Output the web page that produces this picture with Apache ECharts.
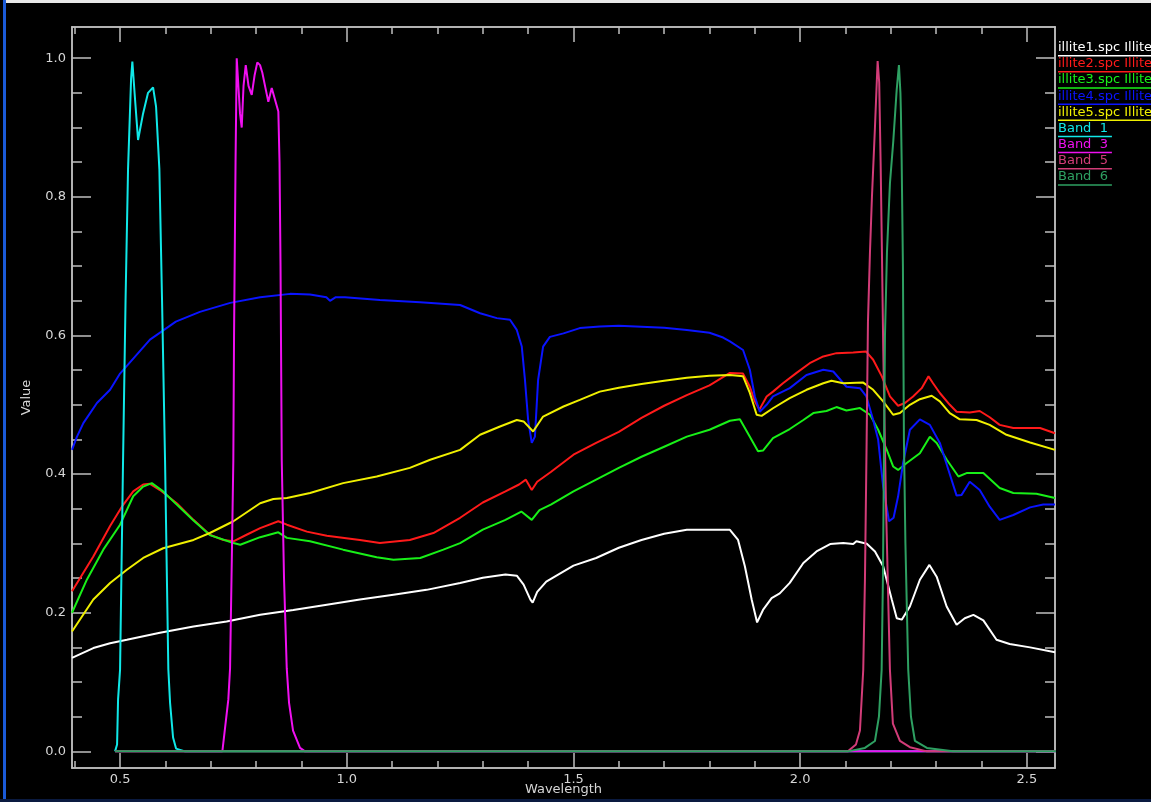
<!DOCTYPE html>
<html>
<head>
<meta charset="utf-8">
<script src="https://cdn.jsdelivr.net/npm/echarts@6/dist/echarts.min.js"></script>
<style>
html,body{margin:0;padding:0;background:#000;}
#chart{width:1151px;height:802px;}
</style>
</head>
<body>
<div id="chart"></div>
<script>
// ---- data: [wavelength, value] ----
const illite1 = [[0.394,0.135],[0.441,0.149],[0.478,0.156],[0.515,0.161],[0.588,0.171],[0.662,0.18],[0.735,0.1875],[0.809,0.197],[0.882,0.204],[0.956,0.2116],[1.029,0.219],[1.103,0.226],[1.176,0.233],[1.25,0.243],[1.3,0.2505],[1.35,0.255],[1.375,0.2535],[1.39,0.2405],[1.405,0.219],[1.41,0.2145],[1.42,0.23],[1.44,0.245],[1.5,0.268],[1.55,0.279],[1.6,0.2937],[1.65,0.305],[1.7,0.314],[1.75,0.3197],[1.8,0.3197],[1.845,0.3197],[1.863,0.305],[1.878,0.267],[1.893,0.219],[1.905,0.186],[1.918,0.204],[1.937,0.221],[1.955,0.228],[1.977,0.243],[2.007,0.2717],[2.036,0.2884],[2.066,0.299],[2.095,0.3005],[2.117,0.299],[2.124,0.303],[2.147,0.2995],[2.165,0.2884],[2.183,0.267],[2.202,0.219],[2.213,0.192],[2.224,0.19],[2.242,0.209],[2.264,0.2476],[2.285,0.269],[2.301,0.252],[2.323,0.209],[2.345,0.1827],[2.363,0.192],[2.382,0.197],[2.404,0.189],[2.433,0.161],[2.462,0.155],[2.507,0.15],[2.562,0.143]];
const illite2 = [[0.394,0.231],[0.441,0.281],[0.478,0.325],[0.504,0.353],[0.529,0.375],[0.551,0.385],[0.566,0.386],[0.588,0.377],[0.625,0.358],[0.662,0.334],[0.698,0.3125],[0.728,0.305],[0.75,0.303],[0.779,0.3125],[0.809,0.322],[0.849,0.332],[0.868,0.327],[0.912,0.317],[0.956,0.311],[1.029,0.305],[1.073,0.3005],[1.139,0.305],[1.191,0.315],[1.25,0.337],[1.3,0.359],[1.35,0.375],[1.38,0.385],[1.395,0.392],[1.408,0.377],[1.42,0.389],[1.45,0.403],[1.5,0.428],[1.55,0.445],[1.6,0.461],[1.65,0.481],[1.7,0.4986],[1.75,0.514],[1.8,0.528],[1.845,0.546],[1.874,0.545],[1.889,0.526],[1.9,0.505],[1.91,0.493],[1.926,0.512],[1.94,0.519],[1.962,0.531],[1.992,0.546],[2.021,0.56],[2.051,0.5697],[2.08,0.5745],[2.117,0.5754],[2.145,0.577],[2.161,0.565],[2.18,0.541],[2.198,0.512],[2.216,0.4986],[2.231,0.5025],[2.249,0.512],[2.268,0.524],[2.283,0.541],[2.293,0.531],[2.308,0.517],[2.33,0.5],[2.345,0.49],[2.374,0.489],[2.396,0.491],[2.418,0.482],[2.44,0.471],[2.47,0.4664],[2.529,0.4664],[2.562,0.459]];
const illite3 = [[0.394,0.2],[0.427,0.248],[0.463,0.291],[0.5,0.327],[0.529,0.368],[0.551,0.382],[0.57,0.387],[0.595,0.375],[0.625,0.356],[0.662,0.333],[0.698,0.312],[0.75,0.3005],[0.765,0.298],[0.809,0.309],[0.849,0.316],[0.868,0.308],[0.919,0.303],[0.992,0.291],[1.066,0.28],[1.103,0.2765],[1.162,0.279],[1.213,0.291],[1.25,0.3005],[1.3,0.32],[1.35,0.334],[1.385,0.346],[1.408,0.334],[1.425,0.348],[1.45,0.356],[1.5,0.375],[1.55,0.392],[1.6,0.409],[1.65,0.425],[1.7,0.4395],[1.75,0.454],[1.8,0.464],[1.845,0.477],[1.867,0.479],[1.889,0.454],[1.907,0.433],[1.918,0.434],[1.94,0.452],[1.977,0.465],[2.007,0.478],[2.029,0.488],[2.058,0.491],[2.08,0.4967],[2.102,0.4918],[2.132,0.4952],[2.154,0.4856],[2.172,0.464],[2.191,0.435],[2.205,0.411],[2.216,0.406],[2.235,0.416],[2.264,0.43],[2.286,0.454],[2.301,0.445],[2.323,0.421],[2.349,0.3966],[2.367,0.4015],[2.404,0.4015],[2.44,0.38],[2.47,0.3727],[2.521,0.3717],[2.562,0.3655]];
const illite4 = [[0.394,0.435],[0.405,0.454],[0.419,0.4736],[0.449,0.5025],[0.478,0.5216],[0.5,0.545],[0.566,0.594],[0.623,0.62],[0.676,0.634],[0.743,0.647],[0.809,0.655],[0.875,0.66],[0.919,0.659],[0.955,0.655],[0.963,0.65],[0.975,0.655],[0.996,0.655],[1.073,0.651],[1.162,0.648],[1.25,0.644],[1.294,0.632],[1.331,0.625],[1.36,0.6226],[1.375,0.608],[1.386,0.584],[1.393,0.536],[1.4,0.478],[1.408,0.445],[1.415,0.454],[1.422,0.536],[1.433,0.584],[1.448,0.598],[1.478,0.603],[1.514,0.6106],[1.558,0.613],[1.6,0.614],[1.65,0.6125],[1.7,0.611],[1.75,0.608],[1.8,0.604],[1.83,0.597],[1.845,0.5914],[1.874,0.579],[1.889,0.5505],[1.9,0.512],[1.911,0.49],[1.926,0.5],[1.94,0.512],[1.977,0.524],[2.014,0.543],[2.051,0.5505],[2.073,0.548],[2.102,0.526],[2.132,0.524],[2.146,0.512],[2.161,0.478],[2.172,0.4495],[2.183,0.382],[2.196,0.332],[2.206,0.337],[2.216,0.368],[2.227,0.416],[2.242,0.464],[2.264,0.479],[2.286,0.471],[2.308,0.445],[2.327,0.406],[2.345,0.369],[2.356,0.37],[2.374,0.389],[2.396,0.377],[2.418,0.353],[2.44,0.334],[2.47,0.341],[2.507,0.352],[2.536,0.356],[2.562,0.356]];
const illite5 = [[0.394,0.173],[0.441,0.219],[0.478,0.243],[0.515,0.262],[0.551,0.279],[0.595,0.293],[0.662,0.305],[0.698,0.315],[0.75,0.332],[0.809,0.358],[0.838,0.364],[0.868,0.3655],[0.919,0.3727],[0.992,0.387],[1.066,0.3966],[1.139,0.409],[1.184,0.4207],[1.25,0.435],[1.294,0.4567],[1.338,0.4687],[1.375,0.478],[1.39,0.476],[1.411,0.4615],[1.433,0.483],[1.478,0.4975],[1.514,0.507],[1.558,0.519],[1.6,0.5245],[1.65,0.53],[1.7,0.5346],[1.75,0.539],[1.8,0.542],[1.845,0.543],[1.874,0.541],[1.889,0.517],[1.904,0.4856],[1.915,0.484],[1.94,0.495],[1.977,0.5097],[2.014,0.5216],[2.051,0.531],[2.069,0.5346],[2.095,0.531],[2.139,0.532],[2.161,0.5216],[2.183,0.5048],[2.205,0.4856],[2.22,0.488],[2.242,0.5],[2.264,0.508],[2.29,0.513],[2.308,0.505],[2.33,0.488],[2.352,0.479],[2.389,0.478],[2.418,0.471],[2.455,0.4567],[2.507,0.4456],[2.562,0.435]];
const band1 = [[0.489,0],[0.4934,0.01],[0.4956,0.075],[0.5,0.118],[0.5066,0.42],[0.5121,0.65],[0.5176,0.84],[0.5243,0.97],[0.5271,0.995],[0.5331,0.94],[0.5397,0.882],[0.5507,0.92],[0.5617,0.95],[0.5728,0.958],[0.5794,0.93],[0.5867,0.84],[0.5926,0.65],[0.5992,0.42],[0.6065,0.118],[0.6103,0.07],[0.6169,0.02],[0.6235,0.004],[0.6433,0],[2.6,0]];
const band3 = [[0.489,0],[0.7256,0],[0.7388,0.075],[0.7426,0.12],[0.747,0.3],[0.7498,0.42],[0.7514,0.6],[0.7547,0.85],[0.7573,1.0],[0.7646,0.92],[0.7683,0.9],[0.7723,0.96],[0.7772,0.99],[0.7833,0.96],[0.7904,0.947],[0.7966,0.975],[0.8027,0.994],[0.8087,0.99],[0.8138,0.979],[0.8197,0.96],[0.827,0.937],[0.8345,0.957],[0.8418,0.94],[0.8491,0.923],[0.8517,0.85],[0.8539,0.7],[0.8566,0.42],[0.8616,0.25],[0.8676,0.12],[0.8727,0.07],[0.8815,0.03],[0.8969,0.005],[0.9079,0],[2.6,0]];
const band5 = [[0.489,0],[2.1053,0],[2.123,0.01],[2.1318,0.03],[2.1391,0.118],[2.1429,0.25],[2.1466,0.45],[2.1495,0.62],[2.1539,0.72],[2.1583,0.8],[2.1649,0.9],[2.1708,0.996],[2.1743,0.965],[2.1774,0.85],[2.1803,0.72],[2.1832,0.58],[2.1891,0.36],[2.1979,0.118],[2.2045,0.04],[2.22,0.015],[2.242,0.006],[2.2795,0],[2.6,0]];
const band6 = [[0.489,0],[2.1053,0],[2.1428,0.005],[2.1649,0.015],[2.1737,0.05],[2.1797,0.118],[2.1825,0.25],[2.1847,0.42],[2.187,0.6],[2.1914,0.72],[2.198,0.82],[2.2053,0.88],[2.2128,0.954],[2.2178,0.99],[2.2211,0.95],[2.2222,0.92],[2.2238,0.853],[2.2266,0.7],[2.2288,0.45],[2.2321,0.3],[2.2383,0.118],[2.2443,0.05],[2.2531,0.015],[2.2795,0.005],[2.3368,0],[2.6,0]];

const seriesNames = ['illite1.spc Illite','illite2.spc Illite','illite3.spc Illite','illite4.spc Illite','illite5.spc Illite','Band  1','Band  3','Band  5','Band  6'];
const seriesColors = ['#ffffff','#ff1a1a','#18f018','#0a14ff','#f0f000','#10e8e8','#f010f0','#d23c78','#2ea062'];
const seriesData = [illite1, illite2, illite3, illite4, illite5, band1, band3, band5, band6];

const xMajorTicks = [0.5, 1.0, 1.5, 2.0, 2.5];
const xMinorTicks = [0.4,0.6,0.7,0.8,0.9,1.1,1.2,1.3,1.4,1.6,1.7,1.8,1.9,2.1,2.2,2.3,2.4,2.6];
const yMajorTicks = [0.0, 0.2, 0.4, 0.6, 0.8, 1.0];
const yMinorTicks = [0.05,0.1,0.15,0.25,0.3,0.35,0.45,0.5,0.55,0.65,0.7,0.75,0.85,0.9,0.95];

const X_MIN = 0.394, X_MAX = 2.562, Y_MIN = -0.024, Y_MAX = 1.045;
const AX = '#bebebe', TX = '#d6d6d6', FONT = 'DejaVu Sans';

function xAx(pos, ticks, len, labels) {
  return {
    type: 'value', position: pos, min: X_MIN, max: X_MAX,
    name: labels ? 'Wavelength' : '', nameLocation: 'middle', nameGap: 15, nameMoveOverlap: false,
    nameTextStyle: {color: TX, fontSize: 13, fontFamily: FONT},
    axisLine: {show: true, onZero: false, lineStyle: {color: AX, width: 1.5}},
    axisTick: {show: true, inside: true, length: len, customValues: ticks, lineStyle: {color: AX, width: 1.5}},
    axisLabel: {show: !!labels, customValues: ticks, margin: 5, color: TX, fontSize: 13, fontFamily: FONT,
      formatter: v => v.toFixed(1)},
    splitLine: {show: false}
  };
}
function yAx(pos, ticks, len, labels) {
  return {
    type: 'value', position: pos, min: Y_MIN, max: Y_MAX,
    name: labels ? 'Value' : '', nameLocation: 'middle', nameGap: 39, nameRotate: 90, nameMoveOverlap: false,
    nameTextStyle: {color: TX, fontSize: 13, fontFamily: FONT},
    axisLine: {show: true, onZero: false, lineStyle: {color: AX, width: 1.5}},
    axisTick: {show: true, inside: true, length: len, customValues: ticks, lineStyle: {color: AX, width: 1.5}},
    axisLabel: {show: !!labels, customValues: ticks, margin: 6, color: TX, fontSize: 13, fontFamily: FONT,
      formatter: v => v.toFixed(1)},
    splitLine: {show: false}
  };
}

// legend drawn as underlined text
const mctx = document.createElement('canvas').getContext('2d');
mctx.font = '13px "DejaVu Sans"';
const legendEls = [];
seriesNames.forEach((n, i) => {
  const uy = 55.7 + i * 16.15;
  const isBand = i >= 5;
  const w = mctx.measureText(n).width;
  legendEls.push({type: 'text', left: 1058, top: uy - 14.5, silent: true,
    style: {text: n, fill: seriesColors[i], font: '13px "DejaVu Sans"'}});
  legendEls.push({type: 'line', silent: true,
    shape: {x1: 1058, y1: uy, x2: isBand ? 1058 + w + 4 : 1151, y2: uy},
    style: {stroke: seriesColors[i], lineWidth: 1.5}});
});

const chart = echarts.init(document.getElementById('chart'), null, {renderer: 'canvas'});
chart.setOption({
  backgroundColor: '#000',
  animation: false,
  grid: {left: 72, top: 27, width: 983, height: 741, containLabel: false, outerBoundsMode: 'none'},
  xAxis: [xAx('bottom', xMajorTicks, 15, true), xAx('bottom', xMinorTicks, 7, false),
          xAx('top', xMajorTicks, 15, false), xAx('top', xMinorTicks, 7, false)],
  yAxis: [yAx('left', yMajorTicks, 19, true), yAx('left', yMinorTicks, 10, false),
          yAx('right', yMajorTicks, 19, false), yAx('right', yMinorTicks, 10, false)],
  series: seriesData.map((d, i) => ({
    name: seriesNames[i], type: 'line', data: d, showSymbol: false, symbol: 'none',
    xAxisIndex: 0, yAxisIndex: 0, clip: true, smooth: false,
    lineStyle: {color: seriesColors[i], width: 2}, z: 2 + i
  })),
  graphic: [
    {type: 'rect', left: 4, top: 0, shape: {width: 1147, height: 3}, style: {fill: '#e8e8e8'}, silent: true},
    {type: 'rect', left: 3, top: 0, shape: {width: 3, height: 802}, style: {fill: '#1a5ad8'}, silent: true},
    {type: 'rect', left: 0, top: 799, shape: {width: 1151, height: 3}, style: {fill: '#0a1a40'}, silent: true}
  ].concat(legendEls)
});
</script>
</body>
</html>
